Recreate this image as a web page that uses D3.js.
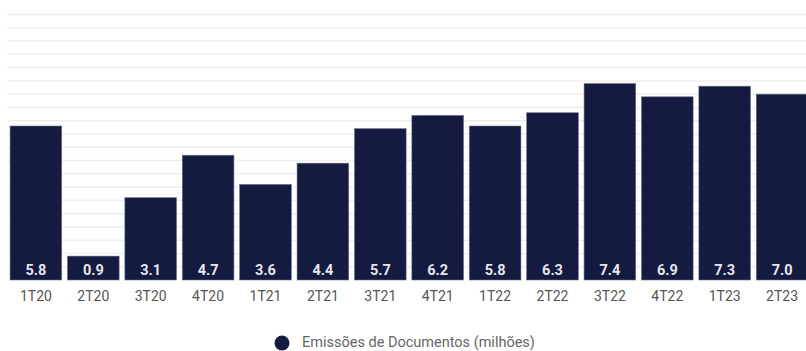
<!DOCTYPE html>
<html><head><meta charset="utf-8">
<script src="https://cdn.jsdelivr.net/npm/d3@7"></script>
<style>html,body{margin:0;padding:0;background:#fff;overflow:hidden}</style>
</head><body>
<svg id="c" width="806" height="351"></svg>
<script>
const categories = ["1T20","2T20","3T20","4T20","1T21","2T21","3T21","4T21","1T22","2T22","3T22","4T22","1T23","2T23"];
const values = [5.8,0.9,3.1,4.7,3.6,4.4,5.7,6.2,5.8,6.3,7.4,6.9,7.3,7.0];
const gridTicks = d3.range(0, 10.01, 0.5);
const seriesName = "Emissões de Documentos (milhões)";

const svg = d3.select("#c");
const font = "Roboto, 'Noto Sans', sans-serif";
const x = d3.scaleBand().domain(categories).range([7.2, 810.8]).paddingInner(0.1).paddingOuter(0.05);
const y = d3.scaleLinear().domain([0, 10]).range([280, 14.5]);

svg.append("g").selectAll("line").data(gridTicks.filter(d => d > 0)).join("line")
  .attr("x1", 7).attr("x2", 806)
  .attr("y1", d => y(d)).attr("y2", d => y(d))
  .attr("stroke", "#eeeeee").attr("stroke-width", 1.5);

svg.append("g").selectAll("rect").data(values).join("rect")
  .attr("x", (d, i) => x(categories[i]))
  .attr("y", d => y(d))
  .attr("width", x.bandwidth())
  .attr("height", d => y(0) - y(d))
  .attr("fill", "#141a40")
  .attr("stroke", "#6b6f8a").attr("stroke-width", 0.6);

svg.append("g").selectAll("text").data(values).join("text")
  .attr("x", (d, i) => x(categories[i]) + x.bandwidth() / 2)
  .attr("y", y(0) - 5)
  .attr("text-anchor", "middle")
  .attr("font-family", font).attr("font-weight", "bold").attr("font-size", 14.5)
  .attr("fill", "#e6e6ec")
  .text(d => d.toFixed(1));

const xAxis = svg.append("g").attr("transform", `translate(0,${y(0)})`)
  .call(d3.axisBottom(x).tickSize(0).tickPadding(11));
xAxis.select(".domain").remove();
xAxis.selectAll("text").attr("font-family", font).attr("font-size", 14).attr("fill", "#555");

const lg = svg.append("g");
lg.append("circle").attr("cx", 282).attr("cy", 343).attr("r", 7.5).attr("fill", "#141a40");
lg.append("text").attr("x", 302).attr("y", 347).attr("font-family", font).attr("font-size", 14.5)
  .attr("fill", "#666").text(seriesName);
</script>
</body></html>
